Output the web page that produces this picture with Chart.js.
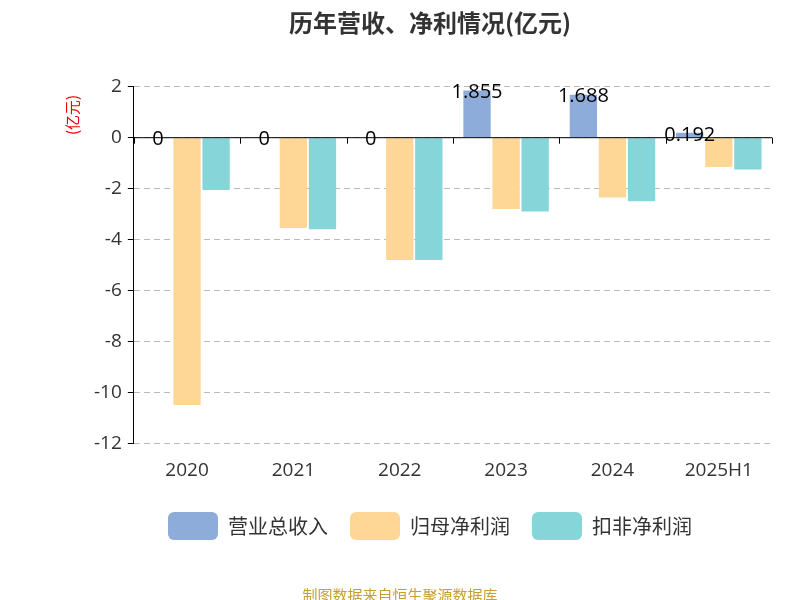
<!DOCTYPE html>
<html><head><meta charset="utf-8">
<script src="https://cdn.jsdelivr.net/npm/chart.js@4"></script>
<style>body{margin:0;background:#fff}#wrap{width:800px;height:600px;position:relative}</style>
</head><body><div id="wrap"><canvas id="c" width="800" height="600"></canvas></div>
<script>
const categories = ['2020', '2021', '2022', '2023', '2024', '2025H1'];
const revenue = [0, 0, 0, 1.855, 1.688, 0.192];
const netProfit = [-10.5, -3.55, -4.8, -2.8, -2.35, -1.15];
const deductedProfit = [-2.05, -3.6, -4.8, -2.9, -2.5, -1.25];
const revenueLabels = ['0', '0', '0', '1.855', '1.688', '0.192'];
const FONT = '"Noto Sans CJK SC", "Noto Sans", sans-serif';
const TICKFONT = '"Open Sans", "Noto Sans", sans-serif';

const extras = {
    id: 'extras',
    afterDatasetsDraw(chart) {
        const c = chart.ctx, y = chart.scales.y, a = chart.chartArea;
        const y0 = y.getPixelForValue(0);
        c.save();
        c.strokeStyle = '#000'; c.lineWidth = 1;
        c.beginPath(); c.moveTo(a.left, y0); c.lineTo(a.right, y0);
        const w = (a.right - a.left) / categories.length;
        for (let i = 0; i <= categories.length; i++) {
            const xx = Math.round(a.left + w * i) + 0.5;
            c.moveTo(xx, y0); c.lineTo(xx, y0 + 6);
        }
        c.stroke();
        c.fillStyle = '#000'; c.font = '20px ' + TICKFONT;
        c.textAlign = 'center'; c.textBaseline = 'bottom';
        chart.getDatasetMeta(0).data.forEach((bar, i) => {
            c.fillText(revenueLabels[i], bar.x, bar.y + 12);
        });
        c.translate(72, 115); c.rotate(-Math.PI / 2);
        c.fillStyle = '#e00'; c.font = '15px ' + FONT;
        c.textAlign = 'center'; c.textBaseline = 'middle';
        c.fillText('(亿元)', 0, 0);
        c.restore();
    }
};

new Chart(document.getElementById('c'), {
    type: 'bar',
    data: {
        labels: categories,
        datasets: [
            { label: '营业总收入', data: revenue, backgroundColor: '#8eacda' },
            { label: '归母净利润', data: netProfit, backgroundColor: '#fed797' },
            { label: '扣非净利润', data: deductedProfit, backgroundColor: '#85d5d9' }
        ]
    },
    options: {
        responsive: false,
        animation: false,
        layout: { padding: { left: 88, right: 28, top: 0, bottom: 50 } },
        datasets: { bar: { categoryPercentage: 0.82, barPercentage: 0.94 } },
        plugins: {
            title: {
                display: true, text: '历年营收、净利情况(亿元)', color: '#333',
                font: { family: FONT, size: 24, weight: 'bold' },
                padding: { top: 8, bottom: 50 }
            },
            legend: {
                position: 'bottom',
                labels: {
                    color: '#333', font: { family: FONT, size: 20 },
                    boxWidth: 50, boxHeight: 28, padding: 22,
                    useBorderRadius: true, borderRadius: 6
                }
            },
            tooltip: { enabled: false }
        },
        scales: {
            x: {
                grid: { display: false },
                border: { display: false },
                ticks: { color: '#333', font: { family: TICKFONT, size: 19 }, padding: 8 }
            },
            y: {
                min: -12, max: 2,
                ticks: { stepSize: 2, color: '#333', font: { family: TICKFONT, size: 19 }, padding: 6 },
                grid: { color: '#bbb', drawTicks: true, tickLength: 6, tickColor: '#000' },
                border: { color: '#000', dash: [6, 4] }
            }
        }
    },
    plugins: [extras, {
        id: 'footer',
        afterDraw(chart) {
            const c = chart.ctx;
            c.save(); c.fillStyle = '#c8a032'; c.font = '15px ' + FONT;
            c.textAlign = 'center'; c.fillText('制图数据来自恒生聚源数据库', 400, 595);
            c.restore();
        }
    }]
});
</script></body></html>
